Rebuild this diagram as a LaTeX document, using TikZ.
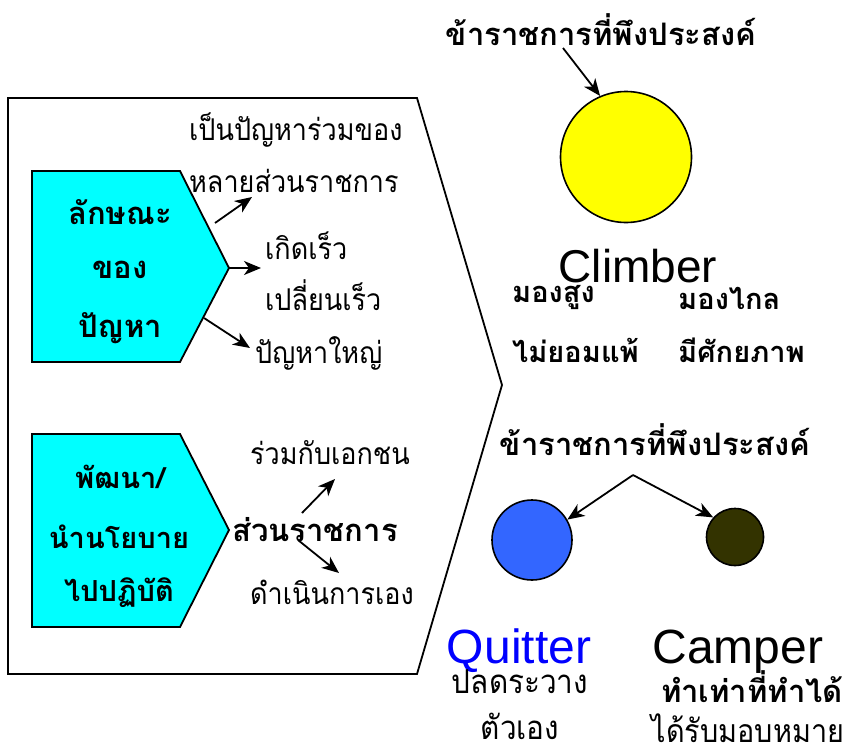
\documentclass[tikz,border=0pt]{standalone}
\usepackage{fontspec}
\setmainfont{Liberation Sans}
\newfontfamily\thai[Script=Thai,FakeStretch=0.9]{Loma}
\newfontfamily\thaib[Script=Thai]{Loma}
\usetikzlibrary{arrows.meta}
\definecolor{boxcyan}{RGB}{0,255,255}
\definecolor{discyellow}{RGB}{255,255,0}
\definecolor{discblue}{RGB}{51,102,255}
\definecolor{discolive}{RGB}{51,51,0}
\definecolor{quitblue}{RGB}{0,0,255}
\tikzset{
  th/.style={font=\thai\fontsize{30}{30}\selectfont, inner sep=0pt},
  thl/.style={font=\thai\fontsize{33}{33}\selectfont, inner sep=0pt},
  thb/.style={font=\thaib\bfseries\fontsize{31}{31}\selectfont, inner sep=0pt},
  thbs/.style={font=\thaib\bfseries\fontsize{29}{29}\selectfont, inner sep=0pt},
  eng/.style={font=\fontsize{48}{48}\selectfont, inner sep=0pt},
  frame/.style={draw=black, line width=1.8pt, line join=miter},
  cyanbox/.style={draw=black, fill=boxcyan, line width=1.8pt},
  arr/.style={-{Stealth[length=17pt,width=14pt,inset=5pt]}, line width=1.8pt},
  disc/.style={circle, draw=black, line width=1.6pt, inner sep=0pt}
}
\begin{document}
\begin{tikzpicture}[x=1pt,y=-1pt]
\useasboundingbox (0,0) rectangle (858,755);
% outer frame
\draw[frame] (8,98) -- (417,98) -- (502,385) -- (417,674) -- (8,674) -- cycle;
% cyan boxes
\draw[cyanbox] (32,171) -- (180,171) -- (229,268) -- (180,362) -- (32,362) -- cycle;
\draw[cyanbox] (32,434) -- (180,434) -- (229,530) -- (180,627) -- (32,627) -- cycle;
\node[thb] (b1a) at (120,212) {ลักษณะ};
\node[thb] (b1b) at (120,270) {ของ};
\node[thb] (b1c) at (120,328) {ปัญหา};
\node[thbs] (b2a) at (120,477) {พัฒนา/};
\node[thbs] (b2b) at (119,537) {นำนโยบาย};
\node[thbs] (b2c) at (119,593) {ไปปฏิบัติ};
% panel 1 texts
\node[th, anchor=west] (p1) at (189,130) {เป็นปัญหาร่วมของ};
\node[th, anchor=west] (p2) at (189,181) {หลายส่วนราชการ};
\node[th, anchor=west] (p3) at (265,246) {เกิดเร็ว};
\node[th, anchor=west] (p4) at (265,295) {เปลี่ยนเร็ว};
\node[th, anchor=west] (p5) at (255,353) {ปัญหาใหญ่};
\coordinate (a1s) at (215,223); \coordinate (a1e) at (252,197);
\coordinate (a2s) at (229,268); \coordinate (a2e) at (261,268);
\coordinate (a3s) at (204,318); \coordinate (a3e) at (250,348);
\draw[arr] (a1s) -- (a1e);
\draw[arr] (a2s) -- (a2e);
\draw[arr] (a3s) -- (a3e);
% panel 2 texts
\node[th, anchor=west] (q1) at (250,453) {ร่วมกับเอกชน};
\node[thb, anchor=west] (q2) at (232,530) {ส่วนราชการ};
\node[th, anchor=west] (q3) at (250,592) {ดำเนินการเอง};
\coordinate (b1s) at (302,513); \coordinate (b1e) at (335,479);
\coordinate (b2s) at (298,540); \coordinate (b2e) at (339,573);
\draw[arr] (b1s) -- (b1e);
\draw[arr] (b2s) -- (b2e);
% right top
\node[thb] (t1) at (601,30) {ข้าราชการที่พึงประสงค์};
\node[disc, fill=discyellow, minimum size=131pt] (yc) at (626,157) {};
\coordinate (t1a) at (563,48);
\draw[arr] (t1a) -- (yc.113);
\node[eng, font=\fontsize{46}{46}\selectfont, anchor=base] (climb) at (638,282) {Climber};
\node[thbs, anchor=west] (c1) at (512,298) {มองสูง};
\node[thbs, anchor=west] (c2) at (678,298) {มองไกล};
\node[thbs, anchor=west] (c3) at (512,350) {ไม่ยอมแพ้};
\node[thbs, anchor=west] (c4) at (678,350) {มีศักยภาพ};
% right bottom
\node[thb] (t2) at (655,440) {ข้าราชการที่พึงประสงค์};
\node[disc, fill=discblue, minimum size=80pt] (bc) at (532,540) {};
\node[disc, fill=discolive, minimum size=57pt] (dc) at (735,537) {};
\coordinate (apex) at (633,475);
\draw[arr] (apex) -- (bc.30);
\draw[arr] (apex) -- (dc.138);
\node[eng, anchor=base, text=quitblue] (quit) at (519,663) {Quitter};
\node[eng, anchor=base] (camp) at (738,663) {Camper};
\node[thl] (d1) at (520,682) {ปลดระวาง};
\node[thl] (d2) at (520,726) {ตัวเอง};
\node[thb] (d3) at (752,687) {ทำเท่าที่ทำได้};
\node[thl, font=\thai\fontsize{32}{32}\selectfont] (d4) at (748,728) {ได้รับมอบหมาย};
\end{tikzpicture}
\end{document}
